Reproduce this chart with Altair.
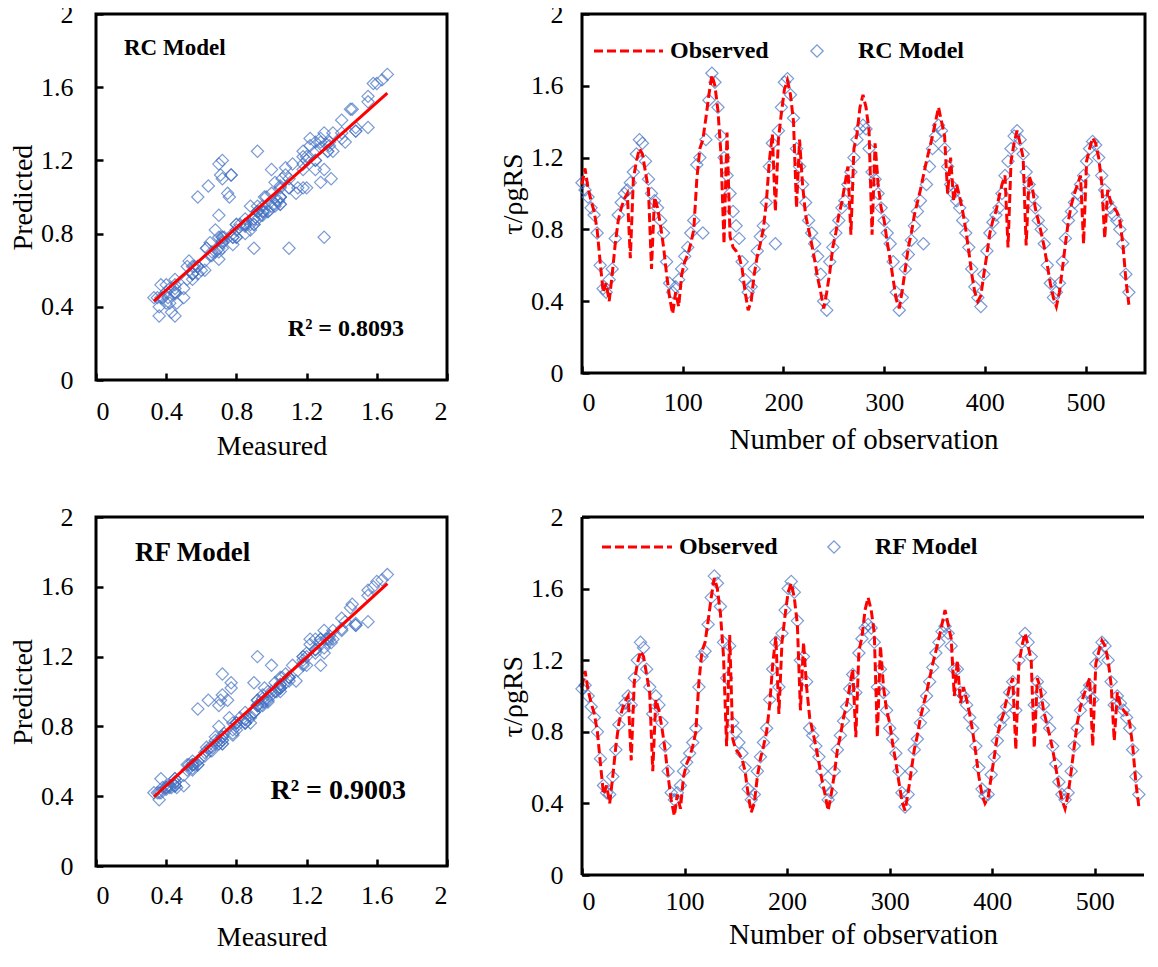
import altair as alt
import pandas as pd

STEP = 3
observed = [
    1.05, 1.14, 1.03, 0.96, 0.90, 0.80, 0.62, 0.45, 0.50, 0.40,
    0.55, 0.72, 0.85, 0.92, 0.97, 1.00, 0.64, 1.08, 1.18, 1.25,
    1.22, 1.12, 1.02, 0.58, 0.98, 0.92, 0.82, 0.70, 0.55, 0.42,
    0.33, 0.45, 0.37, 0.55, 0.62, 0.66, 0.72, 0.80, 1.08, 1.25,
    1.30, 1.42, 1.55, 1.66, 1.60, 1.46, 1.22, 0.72, 1.34, 0.76,
    0.70, 0.68, 0.65, 0.58, 0.45, 0.35, 0.40, 0.55, 0.65, 0.72,
    0.80, 0.95, 1.18, 1.33, 0.90, 1.30, 1.45, 1.58, 1.63, 1.55,
    1.40, 0.92, 1.30, 1.05, 0.88, 0.80, 0.72, 0.63, 0.53, 0.45,
    0.36, 0.45, 0.56, 0.70, 0.78, 0.88, 0.95, 1.05, 1.15, 0.77,
    1.25, 1.33, 1.48, 1.55, 1.48, 1.35, 0.77, 1.28, 1.05, 0.92,
    0.85, 0.73, 0.63, 0.52, 0.41, 0.36, 0.46, 0.58, 0.70, 0.78,
    0.88, 0.95, 1.02, 1.10, 1.18, 1.25, 1.32, 1.40, 1.48, 1.40,
    1.32, 1.00, 1.20, 0.96, 1.05, 0.98, 0.90, 0.80, 0.68, 0.55,
    0.45, 0.40, 0.43, 0.55, 0.66, 0.78, 0.85, 0.90, 0.98, 1.05,
    1.10, 0.70, 1.18, 1.28, 1.35, 1.28, 1.20, 0.71, 1.10, 1.04,
    0.92, 0.85, 0.78, 0.70, 0.60, 0.50, 0.42, 0.37, 0.45, 0.58,
    0.72, 0.85, 0.94, 1.00, 1.05, 1.10, 0.72, 1.18, 1.25, 1.31,
    1.28, 1.20, 1.06, 0.75, 1.02, 0.95, 0.92, 0.90, 0.85, 0.72,
    0.52, 0.38,
]
rc_model = [
    1.06, 1.02, 0.98, 0.92, 0.88, 0.78, 0.60, 0.47, 0.45, 0.52,
    0.58, 0.75, 0.88, 0.95, 1.00, 1.02, 1.06, 1.12, 1.22, 1.30,
    1.28, 1.18, 1.08, 1.00, 0.96, 0.92, 0.85, 0.78, 0.62, 0.50,
    0.45, 0.48, 0.52, 0.58, 0.65, 0.70, 0.78, 0.85, 1.16, 1.20,
    0.78, 1.30, 1.52, 1.67, 1.62, 1.48, 1.32, 1.20, 1.10, 1.00,
    0.90, 0.82, 0.75, 0.62, 0.52, 0.45, 0.48, 0.58, 0.68, 0.76,
    0.82, 0.95, 1.15, 1.28, 0.72, 1.35, 1.48, 1.62, 1.64, 1.55,
    1.42, 1.25, 1.15, 1.05, 0.95, 0.85, 0.78, 0.72, 0.65, 0.55,
    0.40, 0.35, 0.62, 0.70, 0.78, 0.85, 0.92, 0.96, 1.05, 1.12,
    1.20, 1.30, 1.36, 1.38, 1.36, 1.25, 1.12, 1.08, 1.00, 0.92,
    0.85, 0.78, 0.72, 0.62, 0.45, 0.35, 0.42, 0.58, 0.66, 0.74,
    0.82, 0.90, 0.96, 0.72, 1.05, 1.15, 1.25, 1.32, 1.38, 1.35,
    1.25, 1.15, 1.05, 1.00, 0.96, 0.92, 0.85, 0.78, 0.70, 0.58,
    0.48, 0.42, 0.37, 0.55, 0.68, 0.78, 0.84, 0.88, 0.92, 1.00,
    1.10, 1.18, 1.25, 1.32, 1.35, 1.30, 1.22, 1.12, 1.05, 0.98,
    0.92, 0.85, 0.80, 0.72, 0.60, 0.50, 0.42, 0.45, 0.50, 0.62,
    0.75, 0.85, 0.90, 0.95, 1.00, 1.05, 1.10, 1.18, 1.25, 1.29,
    1.27, 1.20, 1.10, 1.02, 0.95, 0.92, 0.88, 0.85, 0.80, 0.72,
    0.55, 0.45,
]
rf_model = [
    1.04, 1.06, 1.00, 0.94, 0.88, 0.80, 0.65, 0.50, 0.46, 0.45,
    0.55, 0.70, 0.84, 0.92, 0.96, 1.00, 0.95, 1.10, 1.20, 1.30,
    1.27, 1.15, 1.05, 0.90, 1.00, 0.95, 0.85, 0.72, 0.58, 0.46,
    0.42, 0.46, 0.50, 0.58, 0.63, 0.68, 0.74, 0.82, 1.05, 1.22,
    1.25, 1.40, 1.55, 1.67, 1.63, 1.50, 1.30, 1.10, 1.28, 0.85,
    0.80, 0.74, 0.68, 0.60, 0.48, 0.42, 0.45, 0.58, 0.66, 0.74,
    0.82, 0.98, 1.15, 1.30, 1.05, 1.35, 1.48, 1.60, 1.64, 1.58,
    1.42, 1.20, 1.22, 1.08, 0.82, 0.78, 0.72, 0.66, 0.58, 0.50,
    0.42, 0.46, 0.58, 0.70, 0.78, 0.86, 0.94, 1.04, 1.12, 1.02,
    1.24, 1.32, 1.38, 1.40, 1.38, 1.30, 1.05, 1.15, 1.02, 0.92,
    0.82, 0.76, 0.68, 0.58, 0.46, 0.38, 0.45, 0.58, 0.70, 0.76,
    0.85, 0.92, 1.00, 1.08, 1.16, 1.24, 1.30, 1.36, 1.39, 1.35,
    1.28, 1.15, 1.15, 1.02, 1.00, 0.95, 0.88, 0.82, 0.72, 0.60,
    0.48, 0.44, 0.45, 0.56, 0.66, 0.75, 0.84, 0.88, 0.94, 1.02,
    1.08, 0.92, 1.20, 1.30, 1.35, 1.30, 1.22, 0.95, 1.08, 1.02,
    0.95, 0.88, 0.82, 0.72, 0.62, 0.52, 0.45, 0.42, 0.46, 0.58,
    0.72, 0.82, 0.92, 0.98, 1.02, 1.06, 0.98, 1.18, 1.24, 1.30,
    1.28, 1.20, 1.08, 0.95, 1.00, 0.96, 0.92, 0.88, 0.82, 0.70,
    0.55, 0.45,
]
obs_number = list(range(0, STEP * len(observed), STEP))

scatter_ticks = [0, 0.4, 0.8, 1.2, 1.6, 2]
series_x_ticks = [0, 100, 200, 300, 400, 500]

FONT = "Liberation Serif"
BLUE = "#4472C4"
RED = "#FF0000"

df_rc = pd.DataFrame({"n": obs_number, "measured": observed, "predicted": rc_model})
df_rf = pd.DataFrame({"n": obs_number, "measured": observed, "predicted": rf_model})


def make_axis(values, title, label_pad, title_pad, title_size=28):
    return alt.Axis(
        values=values, title=title, grid=False, domain=False,
        ticks=True, tickSize=7, offset=-7, tickColor="black", tickWidth=2.5,
        labelFont=FONT, labelFontSize=26, labelColor="black", labelPadding=label_pad,
        titleFont=FONT, titleFontSize=title_size, titleFontWeight="normal",
        titleColor="black", titlePadding=title_pad, format="~f",
    )


one = pd.DataFrame({"a": [0]})
PT_SIZE = 150


def scatter(df, w, h, label, label_size, label_xy, r2, r2_size, r2_xy, xlp, xtp):
    xs = alt.Scale(domain=[0, 2], nice=False)
    ys = alt.Scale(domain=[0, 2], nice=False)
    xa = make_axis(scatter_ticks, "Measured", xlp, xtp)
    ya = make_axis(scatter_ticks, "Predicted", 23, 3)
    base = alt.Chart(df)
    pts = base.mark_point(shape="diamond", filled=False, color=BLUE, size=PT_SIZE,
                          strokeWidth=1.2).encode(
        x=alt.X("measured:Q", scale=xs, axis=xa),
        y=alt.Y("predicted:Q", scale=ys, axis=ya),
    )
    fit = base.transform_regression("measured", "predicted").mark_line(
        color=RED, strokeWidth=3).encode(
        x=alt.X("measured:Q", scale=xs, axis=xa),
        y=alt.Y("predicted:Q", scale=ys, axis=ya),
    )
    lab = alt.Chart(one).mark_text(font=FONT, fontSize=label_size, fontWeight="bold",
                                   align="left", baseline="alphabetic", color="black").encode(
        text=alt.value(label), x=alt.value(label_xy[0]), y=alt.value(label_xy[1]))
    r2t = alt.Chart(one).mark_text(font=FONT, fontSize=r2_size, fontWeight="bold",
                                   align="right", baseline="alphabetic", color="black").encode(
        text=alt.value(r2), x=alt.value(r2_xy[0]), y=alt.value(r2_xy[1]))
    return alt.layer(pts, fit, lab, r2t).properties(width=w, height=h)


def series(df, w, h, xmax, model_name, leg, xlp, xtp, open_right=False):
    xs = alt.Scale(domain=[0, xmax], nice=False)
    ys = alt.Scale(domain=[0, 2], nice=False)
    xa = make_axis(series_x_ticks, "Number of observation", xlp, xtp, 29)
    ya = make_axis(scatter_ticks, "τ/ρgRS", 19, 3)
    base = alt.Chart(df)
    pts = base.mark_point(shape="diamond", filled=False, color=BLUE, size=PT_SIZE,
                          strokeWidth=1.2).encode(
        x=alt.X("n:Q", scale=xs, axis=xa),
        y=alt.Y("predicted:Q", scale=ys, axis=ya),
    )
    line = base.mark_line(color=RED, strokeWidth=3, strokeDash=[9, 4]).encode(
        x=alt.X("n:Q", scale=xs, axis=xa),
        y=alt.Y("measured:Q", scale=ys, axis=ya),
    )
    lx0, lx1, ly, tx, px, mx = leg
    leg_line = alt.Chart(one).mark_rule(color=RED, strokeWidth=3, strokeDash=[9, 4]).encode(
        x=alt.value(lx0), x2=alt.value(lx1), y=alt.value(ly))
    leg_t1 = alt.Chart(one).mark_text(font=FONT, fontSize=24, fontWeight="bold", align="left",
                                      baseline="middle", color="black").encode(
        text=alt.value("Observed"), x=alt.value(tx), y=alt.value(ly))
    leg_pt = alt.Chart(one).mark_point(shape="diamond", filled=False, color=BLUE, size=PT_SIZE,
                                       strokeWidth=1.3).encode(
        x=alt.value(px), y=alt.value(ly))
    leg_t2 = alt.Chart(one).mark_text(font=FONT, fontSize=24, fontWeight="bold", align="left",
                                      baseline="middle", color="black").encode(
        text=alt.value(model_name), x=alt.value(mx), y=alt.value(ly))
    layers = [pts, line, leg_line, leg_t1, leg_pt, leg_t2]
    props = dict(width=w, height=h)
    if open_right:
        frame = alt.Chart(one).mark_rule(color="black", strokeWidth=3)
        layers += [
            frame.encode(x=alt.value(0), x2=alt.value(w), y=alt.value(0)),
            frame.encode(x=alt.value(0), x2=alt.value(w), y=alt.value(h)),
            frame.encode(x=alt.value(0), y=alt.value(0), y2=alt.value(h)),
        ]
        props["view"] = alt.ViewBackground(stroke="transparent")
    return alt.layer(*layers).properties(**props)


tl = scatter(df_rc, 351, 366, "RC Model", 23, (28, 41), "R² = 0.8093", 24, (308, 322), 18, 8)
tr = series(df_rc, 563, 359, 559, "RC Model", (12, 81, 37, 88, 235, 276), 16, 10)
bl = scatter(df_rf, 351, 349, "RF Model", 27, (39, 44), "R² = 0.9003", 28, (310, 282), 16, 15)
br = series(df_rf, 562, 358, 548, "RF Model", (20, 90, 30, 97, 252, 293), 13, 6,
            open_right=True)

chart = alt.concat(
    tl, tr, bl, br, columns=2, bounds="flush", align="each",
    spacing={"row": 137, "column": 135},
).properties(
    padding={"left": 0, "top": -9, "right": 0, "bottom": -4}
).configure_view(stroke="black", strokeWidth=3)

chart.save("out.html", embed_options={"renderer": "svg", "actions": False})
